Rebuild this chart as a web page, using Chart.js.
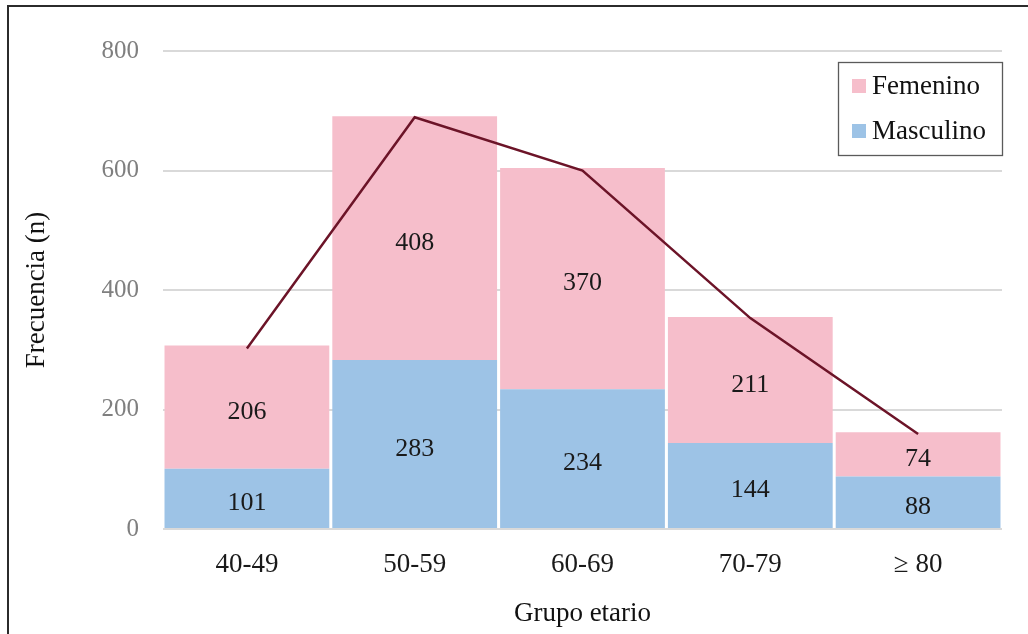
<!DOCTYPE html>
<html>
<head>
<meta charset="utf-8">
<script src="https://cdn.jsdelivr.net/npm/chart.js@4.4.0/dist/chart.umd.min.js"></script>
<style>
  html, body { margin: 0; padding: 0; background: #fff; }
  #wrap { position: relative; width: 1028px; height: 634px; overflow: hidden; }
  #frame { position: absolute; left: 7px; top: 5px; right: -10px; bottom: -10px;
           border-left: 2px solid #2b2b2b; border-top: 2px solid #2b2b2b; pointer-events: none; }
  canvas { position: absolute; left: 0; top: 0; }
</style>
</head>
<body>
<div id="wrap">
  <canvas id="c" width="1028" height="634"></canvas>
  <div id="frame"></div>
</div>
<script>
// Age groups and counts per sex
const grupos = ['40-49', '50-59', '60-69', '70-79', '\u2265 80'];
const masculino = [101, 283, 234, 144, 88];
const femenino = [206, 408, 370, 211, 74];
const tendencia = [302, 689, 600, 353, 159];
const yTicks = [0, 200, 400, 600, 800];

const SERIF = '"Liberation Serif", "Times New Roman", serif';
const PINK = '#F6BECB';
const BLUE = '#9DC3E6';
const LINE = '#6C1428';

// Value labels centred inside each stacked segment
const segmentLabels = {
  id: 'segmentLabels',
  afterDatasetsDraw(chart) {
    const ctx = chart.ctx;
    ctx.save();
    ctx.font = '26px ' + SERIF;
    ctx.fillStyle = '#1a1a1a';
    ctx.textAlign = 'center';
    ctx.textBaseline = 'middle';
    chart.data.datasets.forEach((ds, i) => {
      if (ds.type === 'line') return;
      const meta = chart.getDatasetMeta(i);
      meta.data.forEach((el, j) => {
        const y = (el.y + el.base) / 2;
        ctx.fillText(String(ds.data[j]), el.x, y + 5);
      });
    });
    ctx.restore();
  }
};

// Boxed legend in the upper right corner of the plot
const boxLegend = {
  id: 'boxLegend',
  afterDraw(chart) {
    const ctx = chart.ctx;
    const a = chart.chartArea;
    const w = 164, h = 93;
    const x = a.right - w, y = a.top + 11;
    ctx.save();
    ctx.fillStyle = '#fff';
    ctx.fillRect(x, y, w, h);
    ctx.strokeStyle = '#5a5a5a';
    ctx.lineWidth = 1.3;
    ctx.strokeRect(x + 0.5, y + 0.5, w, h);
    const items = chart.data.datasets.filter(d => d.type !== 'line').slice().reverse();
    ctx.font = '27px ' + SERIF;
    ctx.textBaseline = 'middle';
    ctx.textAlign = 'left';
    items.forEach((d, k) => {
      const cy = y + 24 + k * 45;
      ctx.fillStyle = d.backgroundColor;
      ctx.fillRect(x + 14, cy - 7, 14, 14);
      ctx.fillStyle = '#111';
      ctx.fillText(d.label, x + 34, cy + 1);
    });
    ctx.restore();
  }
};

new Chart(document.getElementById('c'), {
  data: {
    labels: grupos,
    datasets: [
      { type: 'line', label: 'Total', data: tendencia, borderColor: LINE, borderWidth: 2.5,
        pointRadius: 0, fill: false, tension: 0, stack: 'linea', order: 0 },
      { type: 'bar', label: 'Masculino', data: masculino, backgroundColor: BLUE,
        barPercentage: 1, categoryPercentage: 0.982, stack: 'sexo', order: 1 },
      { type: 'bar', label: 'Femenino', data: femenino, backgroundColor: PINK,
        barPercentage: 1, categoryPercentage: 0.982, stack: 'sexo', order: 1 }
    ]
  },
  options: {
    responsive: false,
    animation: false,
    devicePixelRatio: 1,
    layout: { padding: { top: 51, right: 26, bottom: 0, left: 0 } },
    plugins: { legend: { display: false }, tooltip: { enabled: false } },
    scales: {
      x: {
        stacked: true,
        grid: { display: false, drawTicks: false },
        border: { display: false },
        ticks: { color: '#1a1a1a', font: { family: SERIF, size: 27 }, padding: 20, maxRotation: 0 },
        title: { display: true, text: 'Grupo etario', color: '#111',
                 font: { family: SERIF, size: 27 }, padding: { top: 0, bottom: 4 } },
        afterFit(s) { s.height = 105; }
      },
      y: {
        stacked: true,
        min: 0, max: 800,
        afterBuildTicks(s) { s.ticks = yTicks.map(v => ({ value: v })); },
        grid: { color: '#d9d9d9', lineWidth: 2, drawTicks: false },
        border: { display: false },
        ticks: { color: '#7f7f7f', font: { family: SERIF, size: 25 }, padding: 24 },
        title: { display: true, text: 'Frecuencia (n)', color: '#111',
                 font: { family: SERIF, size: 27 }, padding: { top: 21, bottom: 0 } },
        afterFit(s) { s.width = 163; }
      }
    }
  },
  plugins: [segmentLabels, boxLegend]
});
</script>
</body>
</html>
